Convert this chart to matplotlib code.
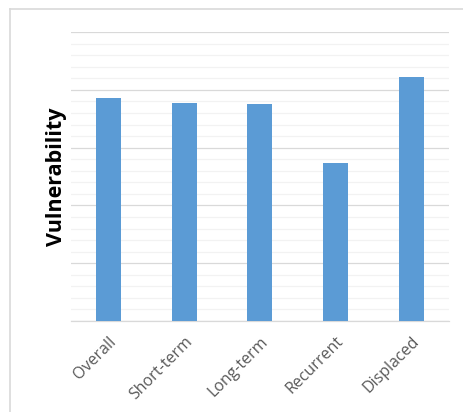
import matplotlib.pyplot as plt
from matplotlib.lines import Line2D
import numpy as np

categories = ['Overall', 'Short-term', 'Long-term', 'Recurrent', 'Displaced']
values = [3.86, 3.77, 3.76, 2.73, 4.23]

plt.rcParams['font.family'] = ['Open Sans', 'DejaVu Sans']

fig = plt.figure(figsize=(4.63, 4.12), dpi=100)
ax = fig.add_axes([0.153, 0.221, 0.817, 0.701])

x = np.arange(len(categories))
ax.bar(x, values, width=0.33, color='#5B9BD5', zorder=3)

ax.set_xlim(-0.5, len(categories) - 0.5)
ax.set_ylim(0, 5)
ax.set_yticks(np.arange(0, 5.01, 1))
ax.set_yticks(np.arange(0, 5.01, 0.2), minor=True)
ax.grid(axis='y', which='minor', color='#F2F2F2', linewidth=0.9, zorder=0)
ax.grid(axis='y', which='major', color='#D9D9D9', linewidth=0.9, zorder=1)
ax.tick_params(axis='y', which='both', left=False, labelleft=False)
ax.tick_params(axis='x', length=0, pad=9, colors='#595959', labelsize=11.5)

ax.set_xticks(x)
ax.set_xticklabels(categories, rotation=45, ha='right', rotation_mode='anchor')

for s in ['top', 'right', 'left']:
    ax.spines[s].set_visible(False)
ax.spines['bottom'].set_color('#D9D9D9')
ax.spines['bottom'].set_linewidth(0.9)

ax.set_ylabel('Vulnerability', fontsize=15.5, fontweight='bold', color='black', labelpad=3)

# partial frame of the chart area (top and left only)
fig.add_artist(Line2D([10 / 463, 10 / 463], [0, 1 - 9 / 412], color='#D9D9D9', lw=1.2,
                      transform=fig.transFigure))
fig.add_artist(Line2D([10 / 463, 1], [1 - 9 / 412, 1 - 9 / 412], color='#D9D9D9', lw=1.2,
                      transform=fig.transFigure))

fig.savefig('out.png', dpi=100)
